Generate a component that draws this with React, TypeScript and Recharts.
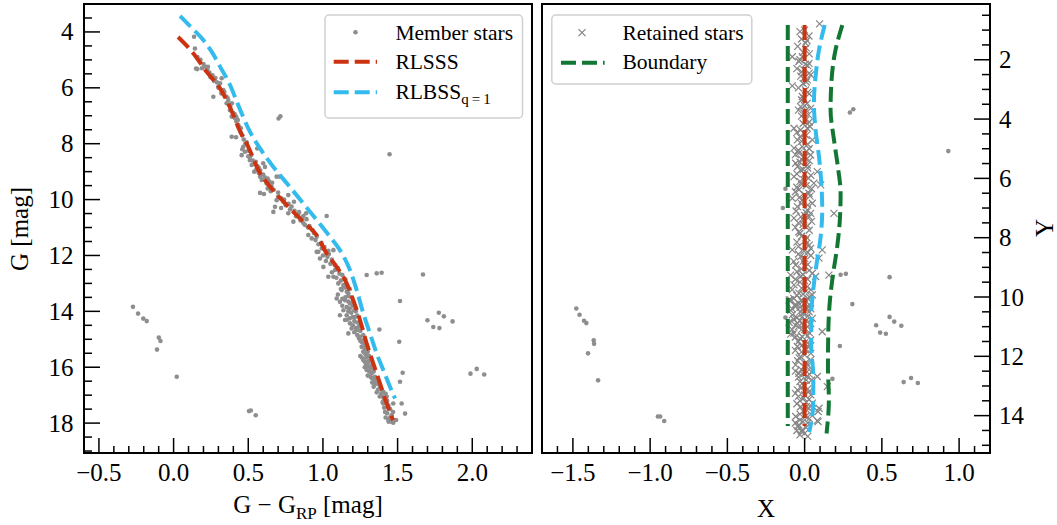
import React from 'react';
import { ComposedChart, Scatter, Line, XAxis, YAxis, ReferenceArea } from 'recharts';

const FONT = '"Liberation Serif", "Times New Roman", serif';
const INK = '#000';
const STAR = '#8e8e8e';
const RED = '#cc3311';
const CYAN = '#33bbee';
const GREEN = '#117733';

type P = [number, number];

// ---- colour-magnitude diagram (G - G_RP, G) ----
const memberStars: P[] = [
  [0.137, 4.17], [0.143, 4.59], [0.159, 5.33], [0.16, 4.9], [0.18, 5.0], [0.19, 5.3], [0.2, 5.15], [0.21, 5.24],
  [0.226, 5.36], [0.23, 5.25], [0.24, 5.45], [0.248, 5.62], [0.26, 5.55], [0.266, 6.32], [0.27, 5.75],
  [0.28, 5.65], [0.29, 5.8], [0.3, 6.0], [0.3, 5.95], [0.311, 5.84], [0.32, 6.2], [0.322, 5.66], [0.333, 6.08],
  [0.34, 6.15], [0.35, 6.3], [0.355, 6.55], [0.36, 6.35], [0.366, 6.44], [0.37, 6.6], [0.378, 6.8], [0.38, 6.65],
  [0.389, 7.03], [0.39, 6.55], [0.4, 6.9], [0.41, 6.95], [0.411, 7.09], [0.42, 7.2], [0.42, 7.05], [0.43, 7.15],
  [0.433, 7.33], [0.44, 7.4], [0.45, 7.45], [0.45, 7.6], [0.46, 7.7], [0.47, 7.85], [0.389, 7.75], [0.418, 7.77],
  [0.15, 5.31],
  [0.467, 8.11], [0.456, 8.41], [0.478, 8.29], [0.48, 8.0], [0.49, 7.95], [0.46, 8.2], [0.5, 8.25], [0.5, 8.45],
  [0.511, 8.59], [0.52, 8.4], [0.51, 8.5], [0.523, 8.76], [0.53, 8.6], [0.54, 9.0], [0.55, 8.65], [0.552, 8.94],
  [0.56, 8.17], [0.56, 8.8], [0.57, 8.85], [0.57, 9.05], [0.579, 9.18], [0.58, 8.95], [0.59, 9.3], [0.6, 8.7],
  [0.6, 9.1], [0.61, 9.2], [0.612, 8.83], [0.623, 9.42], [0.63, 9.25], [0.64, 9.35], [0.579, 9.76], [0.605, 9.8],
  [0.63, 9.6], [0.65, 9.7], [0.656, 9.54], [0.66, 9.4], [0.67, 9.65], [0.69, 9.18], [0.712, 9.18], [0.69, 10.02],
  [0.7, 9.9], [0.7, 9.75], [0.679, 10.26], [0.668, 10.44], [0.72, 10.3], [0.72, 9.95], [0.735, 10.08],
  [0.74, 10.0], [0.75, 10.2], [0.768, 9.84], [0.77, 10.15], [0.78, 10.35], [0.79, 10.25], [0.806, 10.08],
  [0.768, 10.49], [0.81, 10.4], [0.802, 10.79], [0.82, 10.6], [0.835, 10.55], [0.84, 10.45], [0.85, 10.75],
  [0.86, 10.65], [0.869, 10.59], [0.87, 10.85], [0.887, 10.49], [0.88, 10.91], [0.89, 10.7], [0.9, 11.0],
  [0.902, 11.27], [0.91, 10.95], [0.93, 11.1], [0.94, 11.2], [0.958, 11.33],
  [0.925, 11.39], [0.95, 11.45], [0.958, 11.87], [0.969, 11.87], [0.97, 11.6], [0.99, 11.55], [0.992, 11.75],
  [1.0, 12.0], [1.01, 11.7], [1.03, 12.05], [1.04, 11.95], [1.036, 11.83], [1.07, 11.81],
  [0.98, 12.11], [1.02, 12.2], [1.003, 12.41], [1.05, 12.3], [1.06, 12.15], [1.06, 12.6], [1.08, 12.35],
  [1.1, 12.45], [1.11, 12.65], [1.036, 12.76], [1.07, 12.76], [1.081, 12.52], [1.09, 12.8], [1.12, 12.9],
  [1.13, 12.7], [1.15, 12.85], [1.103, 13.0], [1.137, 13.06], [1.14, 13.1], [1.15, 13.15], [1.12, 13.2],
  [1.126, 13.24], [1.16, 13.3], [1.17, 13.35], [1.18, 13.2], [1.17, 13.45], [1.1, 13.4], [1.19, 13.5],
  [1.15, 13.5], [1.13, 13.55], [1.092, 13.54], [1.114, 13.66], [1.148, 13.6], [1.17, 13.65], [1.2, 13.65],
  [1.181, 13.72], [1.13, 13.8], [1.2, 13.8], [1.16, 13.85], [1.18, 13.9], [1.137, 13.96], [1.21, 13.95],
  [1.22, 14.0], [1.17, 14.0], [1.19, 14.05], [1.114, 14.14], [1.159, 14.14], [1.23, 14.15], [1.215, 14.2],
  [1.2, 14.2], [1.18, 14.25], [1.148, 14.31], [1.16, 14.3], [1.21, 14.35], [1.23, 14.4], [1.181, 14.43],
  [1.25, 14.45], [1.2, 14.5], [1.24, 14.55], [1.192, 14.61], [1.22, 14.6], [1.226, 14.67], [1.25, 14.7],
  [1.21, 14.75], [1.17, 14.79],
  [1.23, 14.85], [1.27, 14.85], [1.248, 14.91], [1.24, 14.95], [1.271, 15.03], [1.25, 15.05], [1.26, 15.1],
  [1.28, 15.15], [1.293, 15.21], [1.27, 15.25], [1.259, 15.27], [1.3, 15.3], [1.28, 15.35], [1.3, 15.45],
  [1.27, 15.45], [1.282, 15.51], [1.29, 15.55], [1.31, 15.6], [1.25, 15.6], [1.26, 15.65], [1.29, 15.65],
  [1.271, 15.75], [1.31, 15.75], [1.28, 15.8], [1.304, 15.81], [1.29, 15.9], [1.33, 15.9], [1.3, 15.95],
  [1.315, 15.99], [1.28, 16.0], [1.32, 16.05], [1.293, 16.1], [1.31, 16.15], [1.34, 16.15], [1.326, 16.22],
  [1.3, 16.3], [1.349, 16.34], [1.32, 16.35], [1.33, 16.4], [1.35, 16.45], [1.36, 16.52], [1.33, 16.55],
  [1.35, 16.6], [1.37, 16.6], [1.382, 16.7], [1.34, 16.7], [1.37, 16.8], [1.39, 16.8], [1.404, 16.88],
  [1.36, 16.9], [1.39, 16.95], [1.42, 16.95], [1.38, 17.05], [1.4, 17.05], [1.427, 17.06], [1.41, 17.15],
  [1.43, 17.2], [1.4, 17.25], [1.404, 17.3], [1.438, 17.36], [1.471, 17.3], [1.44, 17.45], [1.41, 17.45],
  [1.45, 17.5], [1.416, 17.6], [1.47, 17.6], [1.43, 17.65], [1.46, 17.72], [1.42, 17.8], [1.45, 17.8],
  [1.438, 17.89], [1.46, 17.95], [1.44, 17.95], [1.471, 17.99], [1.49, 17.89],
  // stars off the sequence
  [-0.272, 13.84], [-0.238, 14.08], [-0.203, 14.26], [-0.18, 14.35], [-0.099, 14.94], [-0.088, 15.06],
  [-0.111, 15.37], [0.021, 16.34], [0.505, 17.57], [0.517, 17.55], [0.55, 17.72], [0.703, 7.1], [0.715, 7.02],
  [1.446, 8.38], [1.025, 10.59], [1.293, 12.7], [1.36, 12.64], [1.393, 12.62], [1.67, 12.68], [1.516, 13.63],
  [1.378, 14.65], [1.7, 14.32], [1.739, 14.56], [1.776, 14.05], [1.78, 14.6], [1.81, 14.18], [1.868, 14.36],
  [1.511, 15.09], [1.534, 16.2], [1.516, 16.52], [1.988, 16.23], [2.03, 16.06], [2.08, 16.26], [1.527, 17.3],
  [1.55, 17.66],
];

const rlsss: P[] = [
  [0.03, 4.18], [0.13, 4.75], [0.22, 5.42], [0.311, 6.02], [0.36, 6.5], [0.4, 6.97], [0.44, 7.5], [0.5, 8.11],
  [0.567, 8.94], [0.646, 9.54], [0.746, 10.13], [0.869, 10.8], [0.958, 11.27], [1.025, 11.93], [1.092, 12.41],
  [1.159, 13.0], [1.203, 13.6], [1.248, 14.31], [1.293, 15.15], [1.337, 15.86], [1.382, 16.58], [1.427, 17.3],
  [1.47, 17.9],
];

const rlbss: P[] = [
  [0.043, 3.43], [0.12, 3.85], [0.199, 4.29], [0.26, 4.75], [0.311, 5.24], [0.378, 5.9], [0.433, 6.62],
  [0.5, 7.45], [0.579, 8.17], [0.668, 8.83], [0.768, 9.48], [0.869, 10.14], [0.958, 10.73], [1.047, 11.33],
  [1.114, 11.81], [1.181, 12.52], [1.226, 13.24], [1.271, 14.08], [1.315, 14.79], [1.36, 15.51], [1.404, 16.1],
  [1.449, 16.7], [1.483, 17.12],
];

// ---- residual plane (X, Y) ----
const retainedStars: P[] = [
  [0.097, 0.79], [0.0, 1.0], [-0.03, 1.05], [0.028, 1.2], [-0.02, 1.3], [0.015, 1.35], [0.006, 1.44],
  [-0.045, 1.55], [0.01, 1.6], [-0.01, 1.75], [0.03, 1.8], [-0.08, 1.9], [-0.015, 1.9], [-0.03, 2.0],
  [-0.037, 2.06], [0.028, 2.12], [0.005, 2.15], [0.02, 2.2], [-0.05, 2.3], [-0.005, 2.34], [-0.02, 2.4],
  [0.03, 2.45], [0.039, 2.51], [-0.025, 2.55], [0.0, 2.6], [0.017, 2.68], [0.01, 2.75], [-0.01, 2.8],
  [-0.08, 2.88], [-0.04, 2.95], [0.006, 3.02], [0.02, 3.1], [0.03, 3.15], [-0.015, 3.24], [-0.005, 3.3],
  [-0.02, 3.35], [0.017, 3.47], [0.0, 3.55], [-0.026, 3.58], [0.039, 3.64], [0.01, 3.7], [-0.04, 3.7],
  [-0.005, 3.8], [0.025, 3.85], [-0.02, 3.9], [0.006, 4.03], [0.03, 4.1], [-0.01, 4.15], [0.035, 4.25],
  [-0.069, 4.31], [0.017, 4.31], [-0.026, 4.37], [-0.05, 4.45], [0.0, 4.5], [0.01, 4.55], [-0.03, 4.6],
  [0.05, 4.7], [-0.047, 4.7], [-0.02, 4.75], [0.02, 4.85], [-0.015, 4.93], [-0.069, 4.98], [0.03, 5.0],
  [-0.04, 5.05], [0.01, 5.1], [-0.037, 5.15], [-0.06, 5.2], [0.039, 5.21], [-0.005, 5.27], [0.0, 5.3],
  [-0.02, 5.35], [0.03, 5.4], [-0.03, 5.45], [-0.058, 5.49], [0.017, 5.55], [-0.045, 5.6], [0.02, 5.65],
  [-0.01, 5.7], [-0.026, 5.72], [0.082, 5.77], [0.0, 5.85], [-0.05, 5.85], [0.04, 5.9], [-0.069, 5.94],
  [0.025, 6.0], [-0.005, 6.05], [-0.03, 6.1], [0.06, 6.16], [-0.02, 6.2], [0.104, 6.22], [0.01, 6.25],
  [-0.05, 6.3], [0.045, 6.35], [-0.037, 6.39], [-0.06, 6.45], [0.028, 6.5], [0.0, 6.55], [0.035, 6.6],
  [-0.035, 6.65], [-0.08, 6.67], [-0.015, 6.73], [0.05, 6.84], [-0.02, 6.85], [0.02, 6.9], [-0.047, 6.95],
  [0.017, 7.06], [-0.055, 7.1], [0.01, 7.15], [0.039, 7.18], [0.19, 7.18], [0.0, 7.25], [0.03, 7.3],
  [-0.025, 7.3], [-0.069, 7.34], [-0.005, 7.4], [0.045, 7.45], [-0.04, 7.5], [-0.01, 7.55], [0.02, 7.6],
  [-0.06, 7.65], [0.03, 7.75], [-0.037, 7.8], [-0.03, 7.85], [-0.02, 7.95], [0.015, 8.0], [0.006, 8.08],
  [-0.05, 8.15], [0.01, 8.2], [0.03, 8.25], [-0.04, 8.3], [0.039, 8.36], [-0.08, 8.41], [0.114, 8.41],
  [-0.005, 8.45], [0.02, 8.5], [-0.04, 8.55], [0.04, 8.6], [-0.026, 8.64], [0.093, 8.69], [0.0, 8.7],
  [-0.07, 8.8], [-0.01, 8.8], [0.02, 8.9], [-0.058, 8.92], [0.006, 8.98], [-0.02, 9.05], [0.03, 9.1],
  [-0.05, 9.15], [0.05, 9.2], [-0.01, 9.25], [-0.091, 9.26], [0.157, 9.26], [-0.026, 9.31], [0.071, 9.31],
  [-0.06, 9.4], [0.02, 9.4], [0.0, 9.45], [-0.03, 9.5], [-0.069, 9.59], [0.017, 9.65], [-0.02, 9.7],
  [0.04, 9.75], [-0.08, 9.75], [0.01, 9.8], [-0.037, 9.87], [-0.01, 9.9], [0.05, 9.93], [-0.05, 9.95],
  [0.03, 10.0], [0.02, 10.05], [-0.07, 10.05], [-0.1, 10.1], [-0.091, 10.1], [-0.02, 10.1], [0.01, 10.15],
  [-0.015, 10.16], [-0.04, 10.2], [0.0, 10.25], [-0.06, 10.25], [0.02, 10.3], [-0.058, 10.32],
  [-0.03, 10.35], [0.017, 10.38], [-0.08, 10.4], [0.04, 10.4], [-0.09, 10.45], [0.03, 10.5], [-0.03, 10.5],
  [-0.01, 10.55], [-0.08, 10.6], [0.02, 10.65], [-0.015, 10.66], [-0.05, 10.7], [0.05, 10.72],
  [-0.07, 10.75], [0.01, 10.8], [-0.03, 10.8], [-0.1, 10.85], [-0.047, 10.88], [0.04, 10.9], [-0.06, 10.95],
  [-0.01, 10.95], [0.017, 11.0], [-0.04, 11.0], [-0.02, 11.1], [0.0, 11.1], [-0.08, 11.1], [0.114, 11.17],
  [0.03, 11.2], [-0.069, 11.22], [-0.09, 11.25], [0.02, 11.3], [-0.015, 11.34], [-0.06, 11.35],
  [-0.03, 11.4], [0.039, 11.45], [-0.04, 11.5], [0.0, 11.55], [0.03, 11.6], [-0.02, 11.65], [-0.047, 11.67],
  [0.025, 11.7], [0.006, 11.78], [-0.06, 11.8], [-0.02, 11.85], [0.04, 11.9], [0.0, 11.95], [-0.026, 12.01],
  [-0.035, 12.05], [0.039, 12.12], [-0.045, 12.15], [0.01, 12.2], [-0.058, 12.29], [0.02, 12.3],
  [-0.005, 12.35], [0.03, 12.45], [-0.02, 12.45], [-0.06, 12.5], [-0.037, 12.57], [-0.01, 12.6],
  [0.03, 12.6], [0.082, 12.68], [0.017, 12.68], [-0.04, 12.7], [0.045, 12.8], [0.01, 12.8], [-0.03, 12.85],
  [-0.015, 12.91], [0.0, 13.0], [0.147, 13.02], [-0.02, 13.05], [0.02, 13.1], [-0.047, 13.13],
  [0.028, 13.19], [-0.06, 13.25], [0.04, 13.3], [0.0, 13.3], [-0.04, 13.35], [-0.005, 13.41], [0.03, 13.45],
  [-0.03, 13.5], [0.01, 13.55], [0.05, 13.58], [-0.05, 13.6], [-0.026, 13.7], [0.01, 13.7], [0.028, 13.75],
  [0.093, 13.75], [-0.01, 13.85], [0.087, 13.86], [0.04, 13.95], [-0.03, 13.95], [-0.058, 14.03],
  [0.006, 14.03], [0.03, 14.1], [-0.03, 14.15], [0.082, 14.17], [0.087, 14.2], [-0.01, 14.2], [0.02, 14.25],
  [-0.06, 14.25], [-0.037, 14.31], [-0.043, 14.37], [0.01, 14.4], [-0.015, 14.48], [-0.05, 14.5],
  [-0.02, 14.54], [0.0, 14.6], [-0.03, 14.65], [0.02, 14.7],
];

const rejectedStars: P[] = [
  [-1.478, 10.39], [-1.457, 10.6], [-1.428, 10.8], [-1.413, 10.88], [-1.365, 11.46], [-1.363, 11.58],
  [-1.402, 11.9], [-1.337, 12.81], [-0.95, 14.03], [-0.935, 14.03], [-0.909, 14.18], [0.293, 3.78],
  [0.315, 3.67], [0.93, 5.08], [-0.124, 6.35], [-0.141, 7.0], [0.233, 9.25], [0.267, 9.22], [0.309, 10.24],
  [0.55, 9.33], [0.463, 10.95], [0.489, 11.2], [0.526, 11.24], [0.55, 10.67], [0.58, 10.83], [0.626, 10.97],
  [0.228, 11.65], [-0.124, 10.69], [0.18, 12.76], [0.641, 12.87], [0.689, 12.73], [0.733, 12.9],
];

const centralLocus: P[] = [[0, 0.83], [0, 14.35]];
const boundaryBlue: P[] = [
  [-0.109, 0.83], [-0.109, 14.35],
];
const boundaryRed: P[] = [
  [0.244, 0.83], [0.2, 1.67], [0.173, 2.79], [0.168, 3.69], [0.19, 4.7], [0.215, 5.6], [0.233, 6.5],
  [0.228, 7.4], [0.211, 8.3], [0.185, 9.2], [0.164, 10.1], [0.153, 11.22], [0.151, 12.35], [0.157, 13.47],
  [0.142, 14.6],
];
const binaryLocus: P[] = [
  [0.13, 0.83], [0.093, 1.67], [0.071, 2.57], [0.06, 3.47], [0.071, 4.37], [0.093, 5.27], [0.108, 6.16],
  [0.114, 7.06], [0.104, 7.96], [0.078, 8.86], [0.056, 9.76], [0.043, 10.66], [0.043, 11.67], [0.056, 12.68],
  [0.056, 13.58], [0.03, 14.56],
];

// ---- axis ticks ----
const leftXMajor = [-0.5, 0.0, 0.5, 1.0, 1.5, 2.0];
const leftXMinor = [-0.4, -0.3, -0.2, -0.1, 0.1, 0.2, 0.3, 0.4, 0.6, 0.7, 0.8, 0.9, 1.1, 1.2, 1.3, 1.4, 1.6, 1.7, 1.8, 1.9, 2.1, 2.2, 2.3];
const leftYMajor = [4, 6, 8, 10, 12, 14, 16, 18];
const leftYMinor = [3.5, 4.5, 5, 5.5, 6.5, 7, 7.5, 8.5, 9, 9.5, 10.5, 11, 11.5, 12.5, 13, 13.5, 14.5, 15, 15.5, 16.5, 17, 17.5, 18.5, 19];
const rightXMajor = [-1.5, -1.0, -0.5, 0.0, 0.5, 1.0];
const rightXMinor = [-1.6, -1.4, -1.3, -1.2, -1.1, -0.9, -0.8, -0.7, -0.6, -0.4, -0.3, -0.2, -0.1, 0.1, 0.2, 0.3, 0.4, 0.6, 0.7, 0.8, 0.9, 1.1];
const rightYMajor = [2, 4, 6, 8, 10, 12, 14];
const rightYMinor = [0.5, 1, 1.5, 2.5, 3, 3.5, 4.5, 5, 5.5, 6.5, 7, 7.5, 8.5, 9, 9.5, 10.5, 11, 11.5, 12.5, 13, 13.5, 14.5, 15];

const pts = (a: P[]) => a.map(([x, y]) => ({ x, y }));
const all = (a: number[], b: number[]) => [...a, ...b].sort((p, q) => p - q);
const fmtDec = (v: number) => (v < 0 ? '\u2212' : '') + Math.abs(v).toFixed(1);
const fmtInt = (v: number) => String(v);

type Side = 'bottom' | 'left' | 'right';
const serif = { fontFamily: FONT };

// ticks point into the plot; only majors carry a label
function inwardTick(side: Side, majors: number[], fmt: (v: number) => string) {
  return (props: any) => {
    const { x, y, payload } = props;
    const v = payload.value as number;
    const major = majors.some((m) => Math.abs(m - v) < 1e-6);
    if (side === 'bottom') {
      const len = major ? 15 : 7;
      return (
        <g>
          <line x1={x} y1={y} x2={x} y2={y - len} stroke={INK} strokeWidth={1.5} />
          {major && (
            <text x={x} y={y + 28} textAnchor="middle" fontSize={25} fill={INK} style={serif}>
              {fmt(v)}
            </text>
          )}
        </g>
      );
    }
    const len = major ? 16 : 8;
    const dir = side === 'left' ? 1 : -1;
    return (
      <g>
        <line x1={x} y1={y} x2={x + dir * len} y2={y} stroke={INK} strokeWidth={1.5} />
        {major && (
          <text
            x={side === 'left' ? x - 10.5 : x + 9}
            y={y + 8.5}
            textAnchor={side === 'left' ? 'end' : 'start'}
            fontSize={25}
            fill={INK}
            style={serif}
          >
            {fmt(v)}
          </text>
        )}
      </g>
    );
  };
}

const dot = (p: any) => <circle cx={p.cx} cy={p.cy} r={2.3} fill={STAR} />;
const cross = (p: any) => (
  <path
    d={`M${p.cx - 3.5},${p.cy - 3.5}L${p.cx + 3.5},${p.cy + 3.5}M${p.cx - 3.5},${p.cy + 3.5}L${p.cx + 3.5},${p.cy - 3.5}`}
    stroke="#858585"
    strokeWidth={1.2}
    fill="none"
  />
);

const DASH = '15 6';
// dashed curves sit above the star markers
const LINE_Z = 700;

function CmdPanel() {
  return (
    <ComposedChart width={540} height={525} margin={{ top: 4, right: 8, bottom: 0, left: 0 }}>
      <XAxis
        type="number"
        dataKey="x"
        domain={[-0.6, 2.4]}
        allowDataOverflow
        ticks={all(leftXMajor, leftXMinor)}
        interval={0}
        height={72}
        tickSize={0}
        tickMargin={0}
        tickLine={false}
        axisLine={false}
        tick={inwardTick('bottom', leftXMajor, fmtDec)}
      />
      <YAxis
        type="number"
        dataKey="y"
        domain={[3.0, 19.07]}
        reversed
        allowDataOverflow
        ticks={all(leftYMajor, leftYMinor)}
        interval={0}
        width={84}
        tickSize={0}
        tickMargin={0}
        tickLine={false}
        axisLine={false}
        tick={inwardTick('left', leftYMajor, fmtInt)}
      />
      <Scatter data={pts(memberStars)} shape={dot} isAnimationActive={false} />
      <Line data={pts(rlsss)} dataKey="y" type="monotone" stroke={RED} strokeWidth={4} strokeDasharray={DASH} dot={false} isAnimationActive={false} zIndex={LINE_Z} />
      <Line data={pts(rlbss)} dataKey="y" type="monotone" stroke={CYAN} strokeWidth={4} strokeDasharray={DASH} dot={false} isAnimationActive={false} zIndex={LINE_Z} />
      <ReferenceArea x1={-0.6} x2={2.4} y1={3.0} y2={19.07} fill="none" stroke={INK} strokeWidth={2} />

      <g fill={INK} style={serif}>
        <rect x={325} y={15} width={197.5} height={103} rx={4} fill="#fff" fillOpacity={0.85} stroke="#d0d0d0" strokeWidth={1.5} />
        <circle cx={355.5} cy={32.3} r={2.3} fill={STAR} />
        <text x={395.4} y={39.8} fontSize={21.5} style={serif}>Member stars</text>
        <line x1={333.7} y1={61.8} x2={377} y2={61.8} stroke={RED} strokeWidth={4} strokeDasharray={DASH} />
        <text x={395.4} y={69} fontSize={21.5} style={serif}>RLSSS</text>
        <line x1={333.7} y1={92.3} x2={377} y2={92.3} stroke={CYAN} strokeWidth={4} strokeDasharray={DASH} />
        <text x={395.4} y={99.3} fontSize={21.5} style={serif}>
          RLBSS<tspan fontSize={15} dy={5}>q{'\u2009'}={'\u2009'}1</tspan>
        </text>

        <text x={28} y={229} transform="rotate(-90 28 229)" textAnchor="middle" fontSize={25} style={serif}>G [mag]</text>
        <text x={308} y={513} textAnchor="middle" fontSize={25} style={serif}>
          G {'\u2212'} G<tspan fontSize={17} dy={6}>RP</tspan>
          <tspan dy={-6}> [mag]</tspan>
        </text>
      </g>
    </ComposedChart>
  );
}

function ResidualPanel() {
  return (
    <ComposedChart width={517} height={525} margin={{ top: 4, right: 0, bottom: 0, left: 2 }}>
      <XAxis
        type="number"
        dataKey="x"
        domain={[-1.7, 1.2]}
        allowDataOverflow
        ticks={all(rightXMajor, rightXMinor)}
        interval={0}
        height={72}
        tickSize={0}
        tickMargin={0}
        tickLine={false}
        axisLine={false}
        tick={inwardTick('bottom', rightXMajor, fmtDec)}
      />
      <YAxis
        type="number"
        dataKey="y"
        orientation="right"
        domain={[0.12, 15.26]}
        reversed
        allowDataOverflow
        ticks={all(rightYMajor, rightYMinor)}
        interval={0}
        width={67}
        tickSize={0}
        tickMargin={0}
        tickLine={false}
        axisLine={false}
        tick={inwardTick('right', rightYMajor, fmtInt)}
      />
      <Scatter data={pts(rejectedStars)} shape={dot} isAnimationActive={false} />
      <Scatter data={pts(retainedStars)} shape={cross} isAnimationActive={false} />
      <Line data={pts(boundaryBlue)} dataKey="y" type="linear" stroke={GREEN} strokeWidth={4} strokeDasharray={DASH} dot={false} isAnimationActive={false} zIndex={LINE_Z} />
      <Line data={pts(boundaryRed)} dataKey="y" type="monotoneY" stroke={GREEN} strokeWidth={4} strokeDasharray={DASH} dot={false} isAnimationActive={false} zIndex={LINE_Z} />
      <Line data={pts(binaryLocus)} dataKey="y" type="monotoneY" stroke={CYAN} strokeWidth={4} strokeDasharray={DASH} dot={false} isAnimationActive={false} zIndex={LINE_Z} />
      <Line data={pts(centralLocus)} dataKey="y" type="linear" stroke={RED} strokeWidth={4} strokeDasharray={DASH} dot={false} isAnimationActive={false} zIndex={LINE_Z} />
      <ReferenceArea x1={-1.7} x2={1.2} y1={0.12} y2={15.26} fill="none" stroke={INK} strokeWidth={2} />

      <g fill={INK} style={serif}>
        <rect x={11.8} y={15} width={200} height={69} rx={4} fill="#fff" fillOpacity={0.85} stroke="#d0d0d0" strokeWidth={1.5} />
        {cross({ cx: 42, cy: 32.6 })}
        <text x={82.4} y={39.7} fontSize={21.5} style={serif}>Retained stars</text>
        <line x1={21} y1={62.8} x2={64.6} y2={62.8} stroke={GREEN} strokeWidth={4} strokeDasharray={DASH} />
        <text x={82.4} y={68.7} fontSize={21.5} style={serif}>Boundary</text>

        <text x={226} y={517} textAnchor="middle" fontSize={25} style={serif}>X</text>
        <text x={513} y={228} transform="rotate(-90 513 228)" textAnchor="middle" fontSize={25} style={serif}>Y</text>
      </g>
    </ComposedChart>
  );
}

export default function App() {
  return (
    <div style={{ position: 'absolute', left: 0, top: 0, width: 1057, height: 525, background: '#fff' }}>
      <div style={{ position: 'absolute', left: 0, top: 0 }}>
        <CmdPanel />
      </div>
      <div style={{ position: 'absolute', left: 540, top: 0 }}>
        <ResidualPanel />
      </div>
    </div>
  );
}
